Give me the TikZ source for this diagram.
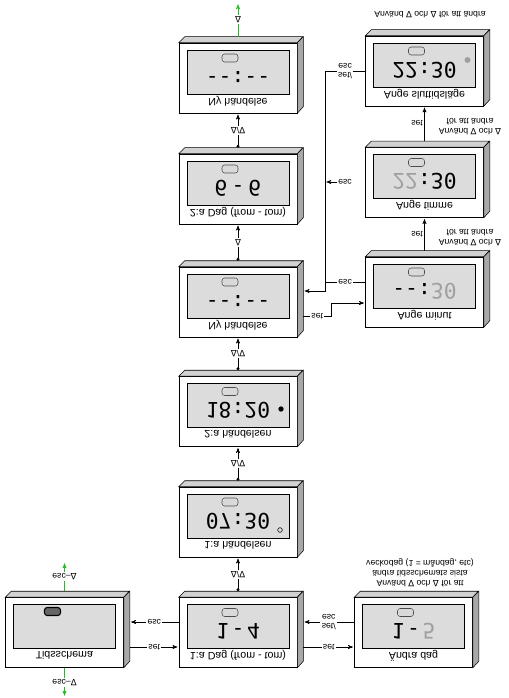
\documentclass[tikz,border=0pt]{standalone}
\usepackage{fontspec}
\setmainfont{Liberation Sans}
\newfontfamily\lcdfont{DejaVu Sans Mono}
\newfontfamily\symfont{DejaVu Sans}
\usepackage{tikz}
\usetikzlibrary{arrows,arrows.meta,calc}

\definecolor{bevlight}{HTML}{D2D2D2}
\definecolor{bevdark}{HTML}{A8A8A8}
\definecolor{lcdgray}{HTML}{DCDCDC}
\definecolor{segoff}{HTML}{A0A0A0}
\definecolor{escgreen}{HTML}{22BB22}

\newcommand{\trup}{{\symfont Δ}}
\newcommand{\trdn}{{\symfont ∇}}

\begin{document}
\begin{tikzpicture}[x=0.75pt,y=0.75pt,yscale=-1,
  every node/.append style={transform shape},
  -,>=stealth',shorten >=1pt,thin,
  face node/.style={rectangle,draw,fill=white,minimum width=88.5pt,minimum height=52.5pt,inner sep=0pt},
  lcd node/.style={rectangle,draw,fill=lcdgray,minimum width=76.5pt,minimum height=33pt,inner sep=0pt},
  label node/.style={font=\fontsize{8}{9}\selectfont,inner sep=0pt},
  digit node/.style={font=\lcdfont\fontsize{16}{16}\selectfont,inner sep=0pt},
  icon node/.style={rectangle,rounded corners=2pt,draw=black!70,fill=black!15,minimum width=12pt,minimum height=6pt,inner sep=0pt},
  tag node/.style={font=\fontsize{6.5}{7}\selectfont,fill=white,inner sep=1pt,align=center},
  note node/.style={font=\fontsize{6.5}{7.5}\selectfont,inner sep=0pt,align=center},
  top bevel/.style={fill=bevlight,draw},
  side bevel/.style={fill=bevdark,draw},
  dot tail/.style={{Circle[length=2.2pt]}->},
  esc line/.style={draw=escgreen}]
  \useasboundingbox (0,0) rectangle (508,698);

  % the units
  \node[face node] (tids)  at (64.5,632.5) {};
  \node[face node] (dag1)  at (238,632.5) {};
  \node[face node] (andra) at (413.5,632.5) {};
  \node[face node] (hand1) at (238,522) {};
  \node[face node] (hand2) at (238,411.5) {};
  \node[face node] (ny1)   at (238,302) {};
  \node[face node] (dag2)  at (238,189) {};
  \node[face node] (ny2)   at (238,78) {};
  \node[face node] (minut) at (424.5,292) {};
  \node[face node] (timme) at (424.5,182.5) {};
  \node[face node] (slut)  at (424.5,71) {};

  \foreach \b in {tids,dag1,andra,hand1,hand2,ny1,dag2,ny2,minut,timme,slut} {
    \path[top bevel] (\b.south west) -- ++(6,-6) -- ++(118,0) -- (\b.south east) -- cycle;
    \path[side bevel] (\b.south east) -- ++(6,-6) -- ++(0,70) -- (\b.north east) -- cycle;
    \node[lcd node] (\b-lcd) at ($(\b)+(0,-6)$) {};
  }

  \node[label node] (tids-txt)  at ($(tids)+(0,23)$)  {Tidsschema};
  \node[label node] (dag1-txt)  at ($(dag1)+(0,23)$)  {1:a Dag (from - tom)};
  \node[label node] (andra-txt) at ($(andra)+(0,23)$) {Ändra dag};
  \node[label node] (hand1-txt) at ($(hand1)+(0,23)$) {1:a händelsen};
  \node[label node] (hand2-txt) at ($(hand2)+(0,23)$) {2:a händelsen};
  \node[label node] (ny1-txt)   at ($(ny1)+(0,23)$)   {Ny händelse};
  \node[label node] (dag2-txt)  at ($(dag2)+(0,23)$)  {2:a Dag (from - tom)};
  \node[label node] (ny2-txt)   at ($(ny2)+(0,23)$)   {Ny händelse};
  \node[label node] (minut-txt) at ($(minut)+(0,23)$) {Ange minut};
  \node[label node] (timme-txt) at ($(timme)+(0,23)$) {Ange timme};
  \node[label node] (slut-txt)  at ($(slut)+(0,23)$)  {Ange sluttidsläge};

  % display contents
  \node[icon node,fill=black!60,draw=black,thick] (tids-ico) at ($(tids)+(-12,-21)$) {};
  \node[icon node] (dag1-ico)  at ($(dag1)+(-8,-20)$) {};
  \node[icon node] (andra-ico) at ($(andra)+(-8,-20)$) {};
  \node[icon node] (hand1-ico) at ($(hand1)+(-8,-20)$) {};
  \node[icon node] (hand2-ico) at ($(hand2)+(-8,-20)$) {};
  \node[icon node] (ny1-ico)   at ($(ny1)+(-8,-20)$) {};
  \node[icon node] (dag2-ico)  at ($(dag2)+(-8,-20)$) {};
  \node[icon node] (ny2-ico)   at ($(ny2)+(-8,-20)$) {};
  \node[icon node] (minut-ico) at ($(minut)+(-8,-20)$) {};
  \node[icon node] (timme-ico) at ($(timme)+(-8,-20)$) {};
  \node[icon node] (slut-ico)  at ($(slut)+(-8,-20)$) {};

  \node[digit node] (dag1-dig)  at ($(dag1)+(0,-1)$)  {1\hspace{2pt}-\hspace{2pt}4};
  \node[digit node] (andra-dig) at ($(andra)+(0,-1)$) {1\hspace{2pt}-\hspace{2pt}{\color{segoff}5}};
  \node[digit node] (hand1-dig) at ($(hand1)+(0,-1)$) {07:30};
  \node[digit node] (hand2-dig) at ($(hand2)+(0,-1)$) {18:20};
  \node[digit node] (ny1-dig)   at ($(ny1)+(0,-1)$)   {-{}-:-{}-};
  \node[digit node] (dag2-dig)  at ($(dag2)+(0,-1)$)  {6\hspace{3pt}-\hspace{3pt}6};
  \node[digit node] (ny2-dig)   at ($(ny2)+(0,-1)$)   {-{}-:-{}-};
  \node[digit node] (minut-dig) at ($(minut)+(0,-1)$) {-{}-:{\color{segoff}30}};
  \node[digit node] (timme-dig) at ($(timme)+(0,-1)$) {{\color{segoff}22}:30};
  \node[digit node] (slut-dig)  at ($(slut)+(0,-1)$)  {22:30};

  \node[circle,fill=black,minimum size=4pt,inner sep=0pt] (hand2-dot) at ($(hand2)+(43,-2.5)$) {};
  \node[circle,draw,minimum size=3.5pt,inner sep=0pt] (hand1-dot) at ($(hand1)+(42,8)$) {};
  \node[circle,fill=segoff,minimum size=4.5pt,inner sep=0pt] (slut-dot) at ($(slut)+(43,-11)$) {};

  % green ways out
  \coordinate (tids-up) at (64.5,562);
  \coordinate (tids-dn) at (64.5,697);
  \coordinate (ny2-up)  at (238,3);
  \draw[->,esc line] ($(tids.south)+(0,-6)$) -- node[tag node] (g1) {esc–\trup} (tids-up);
  \draw[->,esc line] (tids.north) -- node[tag node] (g2) {esc–\trdn} (tids-dn);
  \draw[->,esc line] ($(ny2.south)+(0,-6)$) -- node[tag node] (g3) {\trup} (ny2-up);

  % bottom row
  \draw[->] ($(dag1.west)+(0,-10.5)$) -- node[tag node] (b1) {esc} ($(tids.east)+(6,-10.5)$);
  \draw[->] ($(tids.east)+(6,14.5)$) -- node[tag node] (b2) {set} ($(dag1.west)+(0,14.5)$);
  \draw[->] ($(andra.west)+(0,-10.5)$) -- node[tag node] (b3) {set/\\esc} ($(dag1.east)+(6,-10.5)$);
  \draw[->] ($(dag1.east)+(6,14.5)$) -- node[tag node] (b4) {set} ($(andra.west)+(0,14.5)$);
  \node[note node] (andra-note) at (420,573) {Använd \trdn{} och \trup{} för att\\ändra tidsschemats sista\\veckodag (1 = måndag, etc)};

  % centre column
  \draw[dot tail] ($(dag1.south)+(0,-6)$)  -- node[tag node] (v1) {\trup/\trdn} (hand1.north);
  \draw[dot tail] ($(hand1.south)+(0,-6)$) -- node[tag node] (v2) {\trup/\trdn} (hand2.north);
  \draw[dot tail] ($(hand2.south)+(0,-6)$) -- node[tag node] (v3) {\trup/\trdn} (ny1.north);
  \draw[dot tail] ($(ny1.south)+(0,-6)$)   -- node[tag node] (v4) {\trup} (dag2.north);
  \draw[dot tail] ($(dag2.south)+(0,-6)$)  -- node[tag node] (v5) {\trup/\trdn} (ny2.north);

  % setting the time
  \coordinate (bus-i) at (325,71);
  \coordinate (bus-j) at (325,182);
  \coordinate (bus-k) at (325,282);
  \coordinate (bus-c) at (325,291);
  \draw[->] (slut.west) -- node[tag node] (e1) {set/\\esc} (bus-i) -- (bus-c) -- ($(ny1.east)+(6,-11)$);
  \draw ($(minut.west)+(0,-10)$) -- node[tag node] (e2) {esc} (bus-k);
  \node[tag node] (e3) at (345,182) {esc};
  \draw[->] (e3.west) -- (bus-j);
  \draw[->] ($(ny1.east)+(6,14)$) -- node[tag node] (e4) {set} ++(28,0) |- ($(minut.west)+(0,11)$);

  \draw[->] ($(minut.south)+(0,-6)$) -- node[tag node,anchor=east,fill=none] (s1) {set} (timme.north);
  \draw[->] ($(timme.south)+(0,-6)$) -- node[tag node,anchor=east,fill=none] (s2) {set} (slut.north);
  \node[note node] (minut-note) at (470,238) {Använd \trdn{} och \trup\\för att ändra};
  \node[note node] (timme-note) at (470,127) {Använd \trdn{} och \trup\\för att ändra};
  \node[note node] (slut-note)  at (430,15)  {Använd \trdn{} och \trup{} för att ändra};
\end{tikzpicture}
\end{document}
